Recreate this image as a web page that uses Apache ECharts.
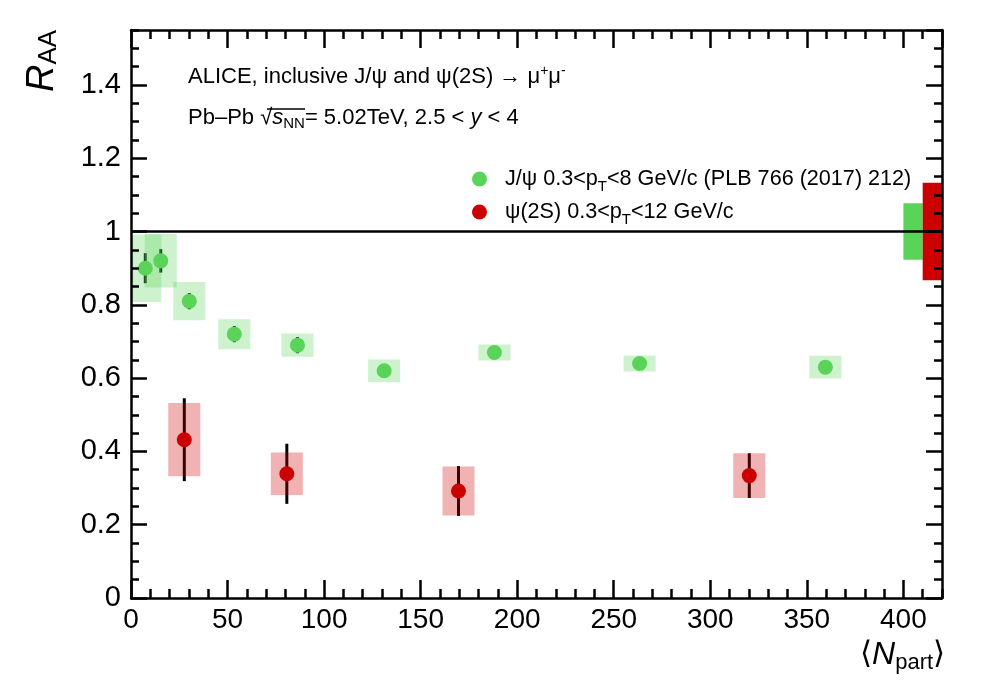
<!DOCTYPE html>
<html>
<head>
<meta charset="utf-8">
<script src="https://cdn.jsdelivr.net/npm/echarts@6/dist/echarts.min.js"></script>
<style>
  html, body { margin: 0; padding: 0; background: #fff; }
  #chart { width: 1001px; height: 694px; }
</style>
</head>
<body>
<div id="chart"></div>
<script>
// J/psi RAA vs <Npart> (stat + syst uncertainties)
const jpsiNpart = [7.4, 15.4, 30.2, 53.5, 86.2, 131.1, 188.2, 263.4, 359.6];
const jpsiRaa = [0.90, 0.92, 0.81, 0.72, 0.69, 0.62, 0.67, 0.64, 0.63];
const jpsiStat = [0.041, 0.032, 0.022, 0.022, 0.022, 0.015, 0.015, 0.015, 0.015];
const jpsiSyst = [0.092, 0.073, 0.052, 0.041, 0.032, 0.031, 0.022, 0.022, 0.031];

// psi(2S) RAA vs <Npart>
const psiNpart = [27.6, 80.7, 169.6, 320.2];
const psiRaa = [0.432, 0.339, 0.292, 0.334];
const psiStat = [0.113, 0.082, 0.068, 0.061];
const psiSyst = [0.100, 0.058, 0.067, 0.061];

// global (correlated) uncertainties drawn at RAA = 1
const globalLo = [400, 410];
const globalHi = [410, 420];
const globalErr = [0.077, 0.133];

const boxHalfWidth = 8.3;

const xTicks = { min: 0, max: 420, major: 50, minor: 10 };
const yTicks = { min: 0, max: 1.55, major: 0.2, minor: 0.05 };

const GREEN = "#59d459";
const RED = "#cc0000";
const FONT = "Liberation Sans";

const legendNames = ["jpsi", "psi2s"];
const legendLabels = {
  jpsi: "{sp|}J/ψ 0.3<p{sub|T}<8 GeV/c (PLB 766 (2017) 212)",
  psi2s: "{sp|}ψ(2S) 0.3<p{sub|T}<12 GeV/c",
};

const zip = (...cols) => cols[0].map((_, i) => cols.map((c) => c[i]));

const clipTo = (rect, params) =>
  echarts.graphic.clipRectByRect(rect, {
    x: params.coordSys.x,
    y: params.coordSys.y,
    width: params.coordSys.width,
    height: params.coordSys.height,
  });

const boxRender = (fill) => (params, api) => {
  const x = api.value(0);
  const y = api.value(1);
  const e = api.value(2);
  const p0 = api.coord([x - boxHalfWidth, y + e]);
  const p1 = api.coord([x + boxHalfWidth, y - e]);
  const rect = clipTo(
    { x: p0[0], y: p0[1], width: p1[0] - p0[0], height: p1[1] - p0[1] },
    params
  );
  return rect && { type: "rect", shape: rect, style: { fill: fill } };
};

const globalRender = (fill) => (params, api) => {
  const p0 = api.coord([api.value(0), 1 + api.value(2)]);
  const p1 = api.coord([api.value(1), 1 - api.value(2)]);
  return {
    type: "rect",
    shape: { x: p0[0], y: p0[1], width: p1[0] - p0[0], height: p1[1] - p0[1] },
    style: { fill: fill },
  };
};

const barRender = (params, api) => {
  const x = api.value(0);
  const y = api.value(1);
  const e = api.value(2);
  const p0 = api.coord([x, y + e]);
  const p1 = api.coord([x, y - e]);
  return {
    type: "line",
    shape: { x1: p0[0], y1: p0[1], x2: p1[0], y2: p1[1] },
    style: { stroke: "#000", lineWidth: 3 },
  };
};

const frameLine = { color: "#000", width: 2.5 };

const makeAxis = (dim, position, t, step, len, labels) => ({
  type: "value",
  position: position,
  min: t.min,
  max: t.max,
  interval: step,
  z: 10,
  axisLine: { show: labels !== null, onZero: false, lineStyle: frameLine },
  axisTick: { show: true, inside: true, length: len, lineStyle: frameLine },
  axisLabel: labels
    ? {
        show: true,
        showMaxLabel: false,
        color: "#000",
        fontFamily: FONT,
        fontSize: labels,
        margin: dim === "x" ? 8 : 10,
      }
    : { show: false },
  splitLine: { show: false },
});

const chart = echarts.init(document.getElementById("chart"));

const option = {
  animation: false,
  backgroundColor: "#fff",
  grid: { left: 131, right: 59, top: 30, bottom: 96 },
  xAxis: [
    makeAxis("x", "bottom", xTicks, xTicks.major, 18, 28),
    makeAxis("x", "bottom", xTicks, xTicks.minor, 9, null),
    makeAxis("x", "top", xTicks, xTicks.major, 18, 0),
    makeAxis("x", "top", xTicks, xTicks.minor, 9, null),
  ],
  yAxis: [
    makeAxis("y", "left", yTicks, yTicks.major, 16, 29),
    makeAxis("y", "left", yTicks, yTicks.minor, 8, null),
    makeAxis("y", "right", yTicks, yTicks.major, 16, 0),
    makeAxis("y", "right", yTicks, yTicks.minor, 8, null),
  ],
  legend: {
    data: legendNames,
    orient: "vertical",
    left: 467,
    top: 163,
    itemWidth: 15,
    itemHeight: 15,
    itemGap: 7,
    icon: "circle",
    selectedMode: false,
    formatter: (name) => legendLabels[name],
    textStyle: {
      color: "#000",
      fontFamily: FONT,
      fontSize: 21.6,
      rich: {
        sp: { width: 13 },
        sub: { fontSize: 15, fontFamily: FONT, color: "#000", padding: [15, 0, 0, 0] },
      },
    },
  },
  graphic: [
    {
      type: "text",
      left: 188,
      top: 64,
      style: {
        text: "ALICE, inclusive J/ψ and ψ(2S) → μ{sup|+}μ{sup|-}",
        font: "22px " + FONT,
        fill: "#000",
        rich: { sup: { fontSize: 14, fill: "#000", padding: [0, 0, 11, 0] } },
      },
    },
    {
      type: "text",
      left: 188,
      top: 107,
      style: {
        text: "Pb–Pb √{i|s}{sub|NN}= 5.02TeV, 2.5 < {i|y} < 4",
        font: "22px " + FONT,
        fill: "#000",
        rich: {
          i: { fontStyle: "italic", fontSize: 22, fill: "#000" },
          sub: { fontSize: 15, fill: "#000", padding: [11, 0, 0, 0] },
        },
      },
    },
    {
      type: "line",
      shape: { x1: 267, y1: 109, x2: 305, y2: 109 },
      style: { stroke: "#000", lineWidth: 1.3 },
    },
    {
      type: "text",
      x: 22,
      y: 92,
      rotation: Math.PI / 2,
      style: {
        text: "{r|R}{aa|AA}",
        fill: "#000",
        rich: {
          r: { fontFamily: FONT, fontStyle: "italic", fontSize: 38, fill: "#000" },
          aa: { fontFamily: FONT, fontSize: 26, fill: "#000", padding: [14, 0, 0, 0] },
        },
      },
    },
    {
      type: "text",
      left: 860,
      top: 639,
      style: {
        text: "⟨{n|N}{sub|part}⟩",
        font: "31px DejaVu Sans",
        fill: "#000",
        rich: {
          n: { fontFamily: FONT, fontStyle: "italic", fontSize: 32, fill: "#000" },
          sub: { fontFamily: FONT, fontSize: 22, fill: "#000", padding: [15, 0, 0, 0] },
        },
      },
    },
  ],
  series: [
    {
      name: "jpsiStat",
      type: "custom",
      z: 1,
      renderItem: barRender,
      data: zip(jpsiNpart, jpsiRaa, jpsiStat),
      markLine: {
        silent: true,
        symbol: "none",
        label: { show: false },
        lineStyle: { color: "#000", width: 2.5, type: "solid" },
        data: [{ yAxis: 1 }],
      },
    },
    {
      name: "psiStat",
      type: "custom",
      z: 1,
      renderItem: barRender,
      data: zip(psiNpart, psiRaa, psiStat),
    },
    {
      name: "jpsiSyst",
      type: "custom",
      z: 2,
      renderItem: boxRender("rgba(89,212,89,0.3)"),
      data: zip(jpsiNpart, jpsiRaa, jpsiSyst),
    },
    {
      name: "psiSyst",
      type: "custom",
      z: 2,
      renderItem: boxRender("rgba(204,0,0,0.3)"),
      data: zip(psiNpart, psiRaa, psiSyst),
    },
    {
      name: "globalJpsi",
      type: "custom",
      z: 3,
      renderItem: globalRender(GREEN),
      data: [[globalLo[0], globalHi[0], globalErr[0]]],
    },
    {
      name: "globalPsi",
      type: "custom",
      z: 3,
      renderItem: globalRender(RED),
      data: [[globalLo[1], globalHi[1], globalErr[1]]],
    },
    {
      name: "jpsi",
      type: "scatter",
      z: 4,
      symbol: "circle",
      symbolSize: 15,
      itemStyle: { color: GREEN, opacity: 1 },
      data: zip(jpsiNpart, jpsiRaa),
    },
    {
      name: "psi2s",
      type: "scatter",
      z: 4,
      symbol: "circle",
      symbolSize: 15,
      itemStyle: { color: RED, opacity: 1 },
      data: zip(psiNpart, psiRaa),
    },
  ],
};

chart.setOption(option);

window.addEventListener("resize", () => chart.resize());
</script>
</body>
</html>
